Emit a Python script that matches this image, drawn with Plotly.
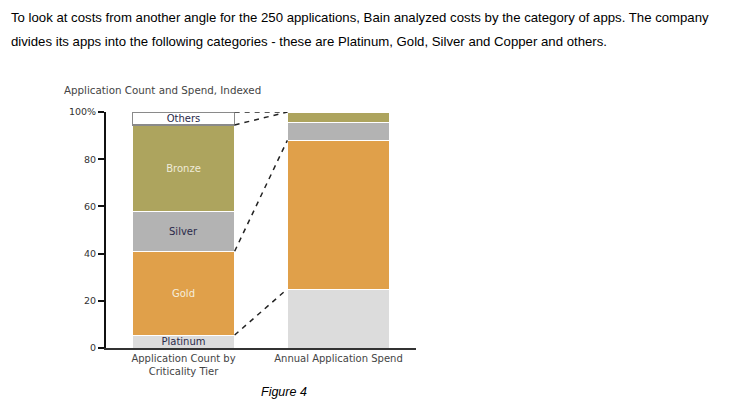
import plotly.graph_objects as go

categories = ["Application Count by<br>Criticality Tier", "Annual Application Spend"]
tiers = ["Platinum", "Gold", "Silver", "Bronze", "Others"]
count_values = [5.5, 35.5, 17.0, 36.5, 5.5]
spend_values = [25.0, 63.0, 7.5, 4.5, 0.0]
tick_vals = [0, 20, 40, 60, 80, 100]
tick_labels = ["0", "20", "40", "60", "80", "100%"]

colors = {"Platinum": "#DCDCDC", "Gold": "#E0A04A", "Silver": "#B3B3B3",
          "Bronze": "#ADA45E", "Others": "#FFFFFF"}
text_colors = {"Platinum": "#2A2A4A", "Gold": "#F5EEDC", "Silver": "#2A2A4A",
               "Bronze": "#EFEBD8", "Others": "#2A2A4A"}

W, H = 743, 410
L, R, T, B = 105.5, 416.0, 112.0, 348.5

fig = go.Figure()
bw = 0.66
for i, t in enumerate(tiers):
    fig.add_trace(go.Bar(
        x=[0], y=[count_values[i]], width=[bw],
        marker=dict(color=colors[t],
                    line=dict(color="#8A8A8A" if t == "Others" else "#FFFFFF",
                              width=1.5 if t == "Others" else 1)),
        text=[t], textposition="inside", insidetextanchor="middle",
        textangle=0, constraintext="none",
        textfont=dict(family="DejaVu Sans", size=10, color=text_colors[t]),
        showlegend=False, hoverinfo="skip"))
for i, t in enumerate(tiers):
    if spend_values[i] <= 0:
        continue
    fig.add_trace(go.Bar(
        x=[1], y=[spend_values[i]], width=[bw],
        marker=dict(color=colors[t], line=dict(color="#FFFFFF", width=1)),
        showlegend=False, hoverinfo="skip"))

# connector dashed lines between cumulative boundaries
def cum(vals, n):
    return sum(vals[:n])

pairs = [
    (cum(count_values, 1), cum(spend_values, 1)),   # platinum top
    (cum(count_values, 2), cum(spend_values, 2)),   # gold top
    (cum(count_values, 4), cum(spend_values, 5)),   # others bottom -> top
    (cum(count_values, 5), cum(spend_values, 5)),   # top -> top
]
for a, b in pairs:
    fig.add_trace(go.Scatter(
        x=[bw / 2, 1 - bw / 2], y=[a, b], mode="lines",
        line=dict(color="#222222", width=1.5, dash="5px,5px"),
        showlegend=False, hoverinfo="skip"))

fig.update_layout(
    barmode="stack",
    width=W, height=H,
    margin=dict(l=L, r=W - R, t=T, b=H - B, pad=0),
    paper_bgcolor="white", plot_bgcolor="white",
    xaxis=dict(range=[-0.5, 1.5], tickvals=[0, 1], ticktext=categories,
               showgrid=False, zeroline=False, showline=True,
               linecolor="#333333", linewidth=1.5, ticks="",
               tickfont=dict(family="DejaVu Sans", size=10, color="#444444"),
               fixedrange=True),
    yaxis=dict(range=[0, 100], tickvals=tick_vals, ticktext=tick_labels,
               showgrid=False, zeroline=False, showline=True,
               linecolor="#111111", linewidth=2, ticks="outside",
               ticklen=6, tickwidth=1.5, tickcolor="#111111",
               tickfont=dict(family="DejaVu Sans", size=9.5, color="#333333"),
               fixedrange=True),
)

def px(xp):
    return (xp - L) / (R - L)

def py(yp):
    return (B - yp) / (B - T)

fig.add_annotation(text="Application Count and Spend, Indexed", xref="paper", yref="paper",
                   x=px(61), y=py(90), xanchor="left", yanchor="middle", showarrow=False,
                   font=dict(family="DejaVu Sans", size=10.3, color="#444444"))
fig.add_annotation(text="To look at costs from another angle for the 250 applications, Bain analyzed costs by the category of apps. The company",
                   xref="paper", yref="paper", x=px(8), y=py(17), xanchor="left", yanchor="middle",
                   showarrow=False, font=dict(family="Liberation Sans", size=13.2, color="#000000"))
fig.add_annotation(text="divides its apps into the following categories - these are Platinum, Gold, Silver and Copper and others.",
                   xref="paper", yref="paper", x=px(8), y=py(41), xanchor="left", yanchor="middle",
                   showarrow=False, font=dict(family="Liberation Sans", size=13.2, color="#000000"))
fig.add_annotation(text="<i>Figure 4</i>", xref="paper", yref="paper", x=px(284), y=py(393),
                   xanchor="center", yanchor="middle", showarrow=False,
                   font=dict(family="Liberation Sans", size=12.5, color="#000000"))

fig.write_html("out.html")
